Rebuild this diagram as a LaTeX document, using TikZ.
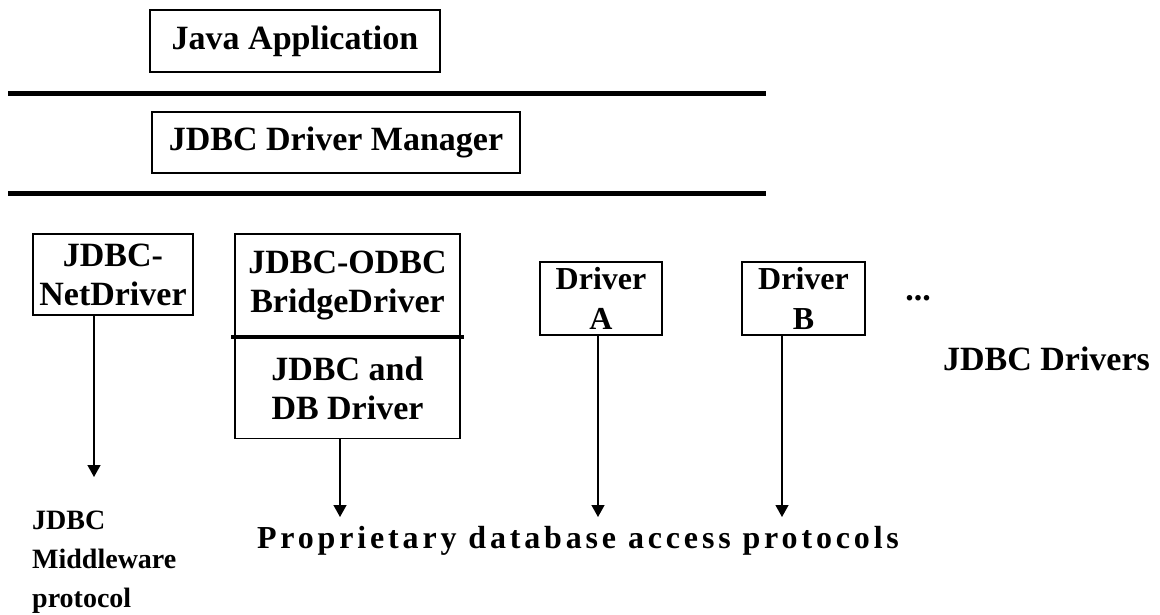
\documentclass[tikz,border=0pt]{standalone}
\usepackage{fontspec}
\setmainfont{Liberation Serif}
\newfontfamily\spacedfont{Liberation Serif}[LetterSpace=12.0]
\usetikzlibrary{positioning, arrows.meta}
\tikzset{drvbox/.style={draw, line width=1.5pt, align=center, inner sep=0pt,
                        font=\fontsize{34}{39}\selectfont\bfseries},
         bar/.style={line width=5pt},
         flow/.style={line width=1.3pt, -{Triangle[width=13pt,length=12pt]}},
         lbl/.style={inner sep=0pt, font=\fontsize{34}{39}\selectfont\bfseries}}

\begin{document}
\begin{tikzpicture}[x=1pt, y=-1pt]
        \useasboundingbox (0,0) rectangle (1160,614);

        % Layers
        \node[drvbox, minimum width=290, minimum height=62] (app) at (295,41) {Java Application};
        \draw[bar] (8,93) -- (766,93);
        \node[drvbox, minimum width=368, minimum height=61] (mgr) at (336,142.5) {JDBC Driver Manager};
        \draw[bar] (8,193) -- (766,193);

        % Drivers
        \node[drvbox, minimum width=160, minimum height=81] (net) at (113,274.5) {JDBC-\\NetDriver};
        \node[drvbox, minimum width=225, minimum height=102] (bridge) at (347.5,285) {JDBC-ODBC\\BridgeDriver};
        \node[drvbox, minimum width=225, minimum height=101, anchor=north] (dbdrv) at (bridge.south) {JDBC and\\DB Driver};
        \draw[line width=4pt] ([xshift=-3]bridge.south west) -- ([xshift=3]bridge.south east);
        \node[drvbox, minimum width=122, minimum height=73, font=\fontsize{32}{40}\selectfont\bfseries] (drvA) at (601,298.5) {Driver\\A};
        \node[drvbox, minimum width=123, minimum height=73, font=\fontsize{32}{40}\selectfont\bfseries] (drvB) at (803.5,298.5) {Driver\\B};
        \node[lbl] (more) at (918,298) {...};
        \node[lbl] (drivers) at (1046.5,359) {JDBC Drivers};

        % Protocols
        \coordinate (netEnd) at (94,477);
        \coordinate (dbEnd) at (340,517);
        \coordinate (aEnd) at (598,517);
        \coordinate (bEnd) at (782,517);
        \node[lbl, align=left, anchor=north west, font=\fontsize{28}{39}\selectfont\bfseries] (mw) at (32,511) {JDBC\\Middleware\\protocol};
        \node[lbl, font=\fontsize{32}{39}\spacedfont\bfseries] (prop) at (578,541) {Proprietary database access protocols};

        % Arrows
        \draw[flow] ([xshift=-19]net.south) -- (netEnd);
        \draw[flow] ([xshift=-7.5]dbdrv.south) -- (dbEnd);
        \draw[flow] ([xshift=-3]drvA.south) -- (aEnd);
        \draw[flow] ([xshift=-21.5]drvB.south) -- (bEnd);
\end{tikzpicture}
\end{document}
